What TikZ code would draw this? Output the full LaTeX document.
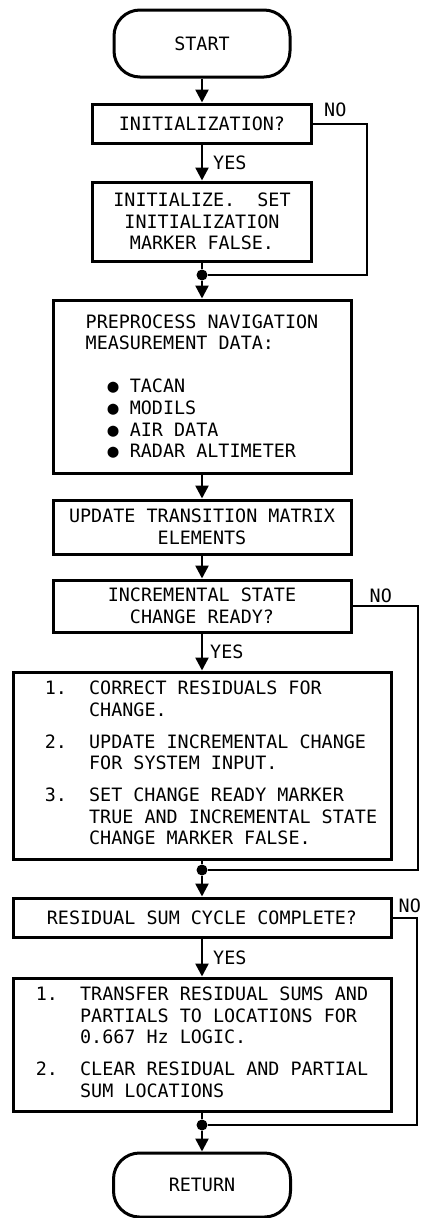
\documentclass[tikz,border=0pt]{standalone}
\usepackage{fontspec}
\setmainfont{DejaVu Sans Mono}
\usetikzlibrary{positioning, arrows.meta}
\newcommand{\chartfont}{\fontsize{18.4}{21.7}\selectfont\frenchspacing}
\tikzset{
  box/.style={draw, line width=3pt, align=center, inner sep=0pt, font=\chartfont},
  term/.style={box, rounded corners=26pt},
  trunk/.style={line width=2.4pt},
  flow/.style={trunk, -{Triangle[length=13pt,width=13pt]}},
  noline/.style={line width=2pt},
  lbl/.style={inner sep=0pt, font=\chartfont},
  dot/.style={circle, fill, inner sep=0pt, minimum size=11pt}
}

\begin{document}
\begin{tikzpicture}[x=1pt, y=-1pt]
  \useasboundingbox (0,0) rectangle (422,1218);

  \node[term, minimum width=176pt, minimum height=67pt] (start) at (202,43.5) {START};
  \node[box, minimum width=219pt, minimum height=39pt] (initq) at (202,123.5) {INITIALIZATION?};
  \node[box, minimum width=219pt, minimum height=79pt] (init) at (202,221.5)
    {INITIALIZE.\ \ SET\\INITIALIZATION\\MARKER FALSE.};
  \node[dot] (j1) at (202,275) {};
  \node[box, minimum width=298pt, minimum height=173pt, align=left] (prep) at (202,386.5)
    {PREPROCESS NAVIGATION\\MEASUREMENT DATA:\\[21pt]
     \hspace*{22pt}● TACAN\\
     \hspace*{22pt}● MODILS\\
     \hspace*{22pt}● AIR DATA\\
     \hspace*{22pt}● RADAR ALTIMETER};
  \node[box, minimum width=298pt, minimum height=54pt] (upd) at (202,527)
    {UPDATE TRANSITION MATRIX\\ELEMENTS};
  \node[box, minimum width=298pt, minimum height=52pt] (incq) at (202,606)
    {INCREMENTAL STATE\\CHANGE READY?};
  \node[box, minimum width=378pt, minimum height=187pt] (corr) at (202,765.5)
    {\begin{tabular}{@{\hspace{18pt}}l@{\hspace{22.1pt}}l@{}}
     1.&CORRECT RESIDUALS FOR\\
       &CHANGE.\\[10pt]
     2.&UPDATE INCREMENTAL CHANGE\\
       &FOR SYSTEM INPUT.\\[10pt]
     3.&SET CHANGE READY MARKER\\
       &TRUE AND INCREMENTAL STATE\\
       &CHANGE MARKER FALSE.
     \end{tabular}};
  \node[dot] (j2) at (202,870) {};
  \node[box, minimum width=378pt, minimum height=39pt] (resq) at (202,917.5)
    {RESIDUAL SUM CYCLE COMPLETE?};
  \node[box, minimum width=378pt, minimum height=133pt] (trans) at (202,1044.5)
    {\begin{tabular}{@{}l@{\hspace{22.1pt}}l@{}}
     1.&TRANSFER RESIDUAL SUMS AND\\
       &PARTIALS TO LOCATIONS FOR\\
       &0.667 Hz LOGIC.\\[10pt]
     2.&CLEAR RESIDUAL AND PARTIAL\\
       &SUM LOCATIONS
     \end{tabular}};
  \node[dot] (j3) at (202,1125) {};
  \node[term, minimum width=177pt, minimum height=64pt] (ret) at (202,1185) {RETURN};

  \draw[flow] (start) -- (initq);
  \draw[flow] (initq) -- node[lbl, anchor=west, xshift=10pt] (yes1) {YES} (init);
  \draw[trunk] (init) -- (j1);
  \draw[flow] (j1) -- (prep);
  \draw[flow] (prep) -- (upd);
  \draw[flow] (upd) -- (incq);
  \draw[flow] (incq) -- node[lbl, anchor=west, xshift=7pt] (yes2) {YES} (corr);
  \draw[trunk] (corr) -- (j2);
  \draw[flow] (j2) -- (resq);
  \draw[flow] (resq) -- node[lbl, anchor=west, xshift=10pt] (yes3) {YES} (trans);
  \draw[trunk] (trans) -- (j3);
  \draw[flow] (j3) -- (ret);

  \coordinate (r1) at (367,275);
  \coordinate (r2) at (418,870);
  \coordinate (r3) at (417,1125);
  \draw[noline] (initq.east) -| (r1) -- (j1);
  \draw[noline] (incq.east) -| (r2) -- (j2);
  \draw[noline] (resq.east) -| (r3) -- (j3);
  \node[lbl, anchor=base west] (no1) at ([xshift=11pt,yshift=7pt]initq.east) {NO};
  \node[lbl, anchor=base west] (no2) at ([xshift=17pt,yshift=4pt]incq.east) {NO};
  \node[lbl, anchor=base west] (no3) at ([xshift=6pt,yshift=5pt]resq.east) {NO};
\end{tikzpicture}
\end{document}
